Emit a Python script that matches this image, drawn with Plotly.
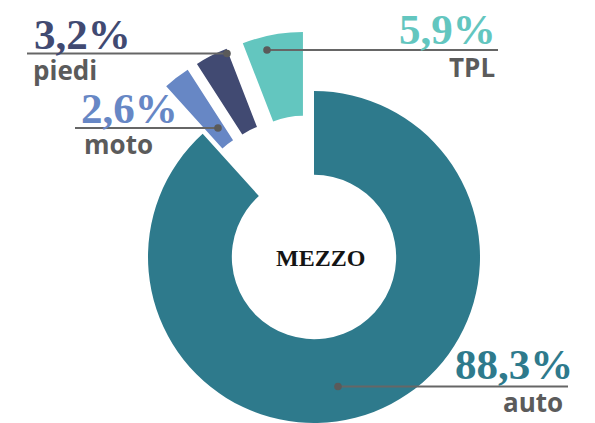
import math
import plotly.graph_objects as go

# ---- data ----
categories = ["auto", "moto", "piedi", "TPL"]
values = [88.3, 2.6, 3.2, 5.9]
pct_labels = ["88,3%", "2,6%", "3,2%", "5,9%"]
colors = ["#2e7a8c", "#6787c5", "#414a72", "#63c6bf"]
center_title = "MEZZO"

# ---- layout / style (window pixels; page body has an 8px margin) ----
OFF = 8
W, H = 595 - OFF, 423 - OFF
CX, CY, R = 314, 257, 166
HOLE = 0.495
PULL_PX = [0, 60, 60, 60]

LINE_COLOR = "#666666"
LABEL_COLOR = "#5b5b5b"
NUM_FONT = "Liberation Serif"
LBL_FONT = "Open Sans"

# callouts: dot (x,y), line end x, number pos/anchor, label pos/anchor
callouts = {
    "auto":  dict(dot=(338, 386.5), lx=568, num=(575, 364, "right"), lbl=(565, 402, "right")),
    "moto":  dict(dot=(218, 128),   lx=75,  num=(79, 109, "left"),   lbl=(82, 144, "left")),
    "piedi": dict(dot=(227, 53.5),  lx=27,  num=(32, 34.5, "left"),  lbl=(31, 70, "left")),
    "TPL":   dict(dot=(267, 50),    lx=498, num=(498, 30, "right"),  lbl=(497, 67, "right")),
}


def px(x):
    return (x - OFF) / W


def py(y):
    return 1 - (y - OFF) / H


fig = go.Figure()
total = sum(values)
cum = 0.0
for i, v in enumerate(values):
    mid = 2 * math.pi * (cum + v / 2) / total
    cum += v
    cx = CX - OFF + PULL_PX[i] * math.sin(mid)
    cy = CY - OFF - PULL_PX[i] * math.cos(mid)
    dx = [max(0.0, (cx - R) / W), min(1.0, (cx + R) / W)]
    dy = [max(0.0, (H - (cy + R)) / H), min(1.0, (H - (cy - R)) / H)]
    cols = [colors[j] if j == i else "rgba(0,0,0,0)" for j in range(len(values))]
    fig.add_trace(go.Pie(
        labels=categories, values=values, sort=False, direction="clockwise",
        rotation=0, hole=HOLE,
        marker=dict(colors=cols, line=dict(width=0)),
        textinfo="none", hoverinfo="skip", showlegend=False,
        domain=dict(x=dx, y=dy),
    ))

shapes = []
annotations = []
for i, cat in enumerate(categories):
    c = callouts[cat]
    dxp, dyp = c["dot"]
    shapes.append(dict(type="line", xref="paper", yref="paper",
                       x0=px(dxp), y0=py(dyp), x1=px(c["lx"]), y1=py(dyp),
                       line=dict(color=LINE_COLOR, width=2)))
    rr = 3.8
    shapes.append(dict(type="circle", xref="paper", yref="paper",
                       x0=px(dxp - rr), x1=px(dxp + rr), y0=py(dyp - rr), y1=py(dyp + rr),
                       fillcolor="#5a5a5a", line=dict(width=0)))
    nx, ny, na = c["num"]
    annotations.append(dict(text="<b>%s</b>" % pct_labels[i], xref="paper", yref="paper",
                            x=px(nx), y=py(ny), xanchor=na, yanchor="middle",
                            showarrow=False,
                            font=dict(family=NUM_FONT, size=43, color=colors[i])))
    lx_, ly_, la = c["lbl"]
    annotations.append(dict(text="<b>%s</b>" % cat, xref="paper", yref="paper",
                            x=px(lx_), y=py(ly_), xanchor=la, yanchor="middle",
                            showarrow=False,
                            font=dict(family=LBL_FONT, size=26, color=LABEL_COLOR)))

annotations.append(dict(text="<b>%s</b>" % center_title, xref="paper", yref="paper",
                        x=px(320), y=py(258), xanchor="center", yanchor="middle",
                        showarrow=False,
                        font=dict(family=NUM_FONT, size=24, color="#141414")))

fig.update_layout(
    width=W, height=H, margin=dict(l=0, r=0, t=0, b=0),
    paper_bgcolor="white", plot_bgcolor="white",
    shapes=shapes, annotations=annotations, showlegend=False,
)

fig.write_html("out.html")
